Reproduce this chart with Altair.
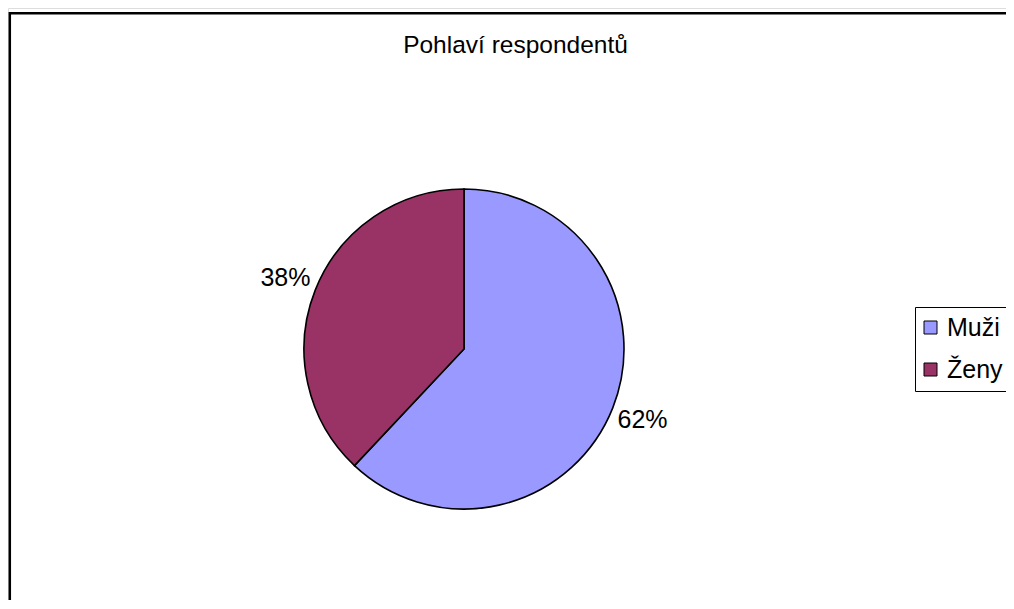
import altair as alt
import pandas as pd

# Data
categories = ["Muži", "Ženy"]
values = [62, 38]
labels = ["62%", "38%"]
title_text = ["Pohlaví respondentů"]
colors = ["#9999FF", "#993366"]

df = pd.DataFrame({"category": categories, "value": values, "label": labels})
FONT = "Liberation Sans"
FS = 25

CX, CY, R = 456, 341, 160

base = alt.Chart(df)

color = alt.Color(
    "category:N",
    scale=alt.Scale(domain=categories, range=colors),
    sort=categories,
    legend=alt.Legend(
        title=None,
        orient="none",
        legendX=907,
        legendY=299,
        strokeColor="black",
        padding=8,
        rowPadding=16,
        symbolType="square",
        symbolSize=169,
        symbolOffset=-5,
        symbolStrokeColor="black",
        symbolStrokeWidth=1,
        symbolOpacity=1,
        labelFontSize=FS,
        labelFont=FONT,
        labelColor="black",
        labelOffset=4,
        labelLimit=200,
    ),
)

pie = base.mark_arc(
    radius=R, stroke="black", strokeWidth=1.6, x=CX, y=CY, opacity=1
).encode(
    theta=alt.Theta("value:Q", stack=True),
    color=color,
    order=alt.Order("value:Q", sort="descending"),
)

text = base.mark_text(
    radius=192, x=CX, y=CY, font=FONT, fontSize=FS, color="black",
    align="center", baseline="middle",
).encode(
    theta=alt.Theta("value:Q", stack=True),
    text="label:N",
    order=alt.Order("value:Q", sort="descending"),
)

title = alt.Chart(pd.DataFrame({"t": title_text})).mark_text(
    font=FONT, fontSize=24.5, color="black", align="center", baseline="alphabetic"
).encode(
    x=alt.value(507.5), y=alt.value(45), text="t:N"
)

border = alt.Chart(pd.DataFrame({"a": [0]})).mark_rect(
    fill=None, stroke="black", strokeWidth=2.5
).encode(
    x=alt.value(1.8), x2=alt.value(1200), y=alt.value(5.3), y2=alt.value(800)
)

chart = alt.layer(border, pie, text, title).properties(
    width=998, height=592, padding=0, autosize=alt.AutoSizeParams(type="none")
).configure_view(stroke=None).configure(background="white")

chart.save("out.html", embed_options={"renderer": "svg", "actions": False})
